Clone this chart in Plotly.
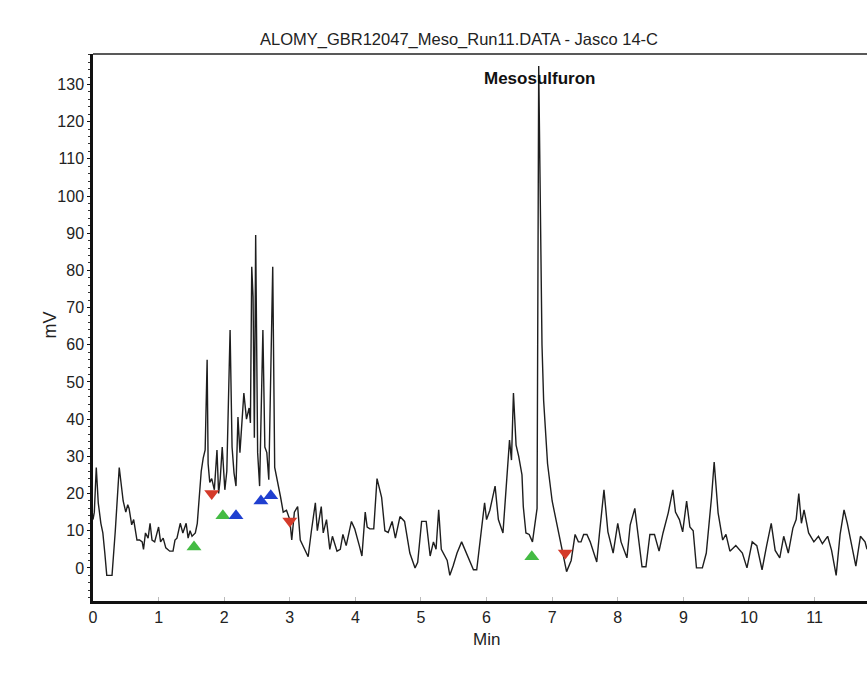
import plotly.graph_objects as go

# ---- data ----
time_min = [
    0.00, 0.02, 0.05, 0.08, 0.12, 0.15, 0.18, 0.21, 0.29, 0.32, 0.34, 0.40, 0.43, 0.46, 0.50,
    0.53, 0.55, 0.59, 0.62, 0.65, 0.67, 0.71, 0.75, 0.77, 0.80, 0.84, 0.87, 0.90, 0.94, 0.97,
    1.00, 1.03, 1.07, 1.11, 1.14, 1.17, 1.22, 1.25, 1.28, 1.33, 1.37, 1.42, 1.45, 1.48, 1.51,
    1.56, 1.59, 1.62, 1.65, 1.68, 1.71, 1.74, 1.755, 1.78, 1.81, 1.85, 1.89, 1.915, 1.94, 1.97,
    2.01, 2.04, 2.09, 2.12, 2.15, 2.18, 2.21, 2.24, 2.27, 2.30, 2.34, 2.38, 2.40, 2.42, 2.44,
    2.46, 2.48, 2.51, 2.54, 2.59, 2.62, 2.65, 2.68, 2.74, 2.77, 2.82, 2.86, 2.90, 2.95, 3.00,
    3.03, 3.07, 3.12, 3.16, 3.20, 3.23, 3.28, 3.33, 3.39, 3.42, 3.48, 3.51, 3.56, 3.61, 3.65,
    3.72, 3.77, 3.81, 3.86, 3.94, 3.99, 4.06, 4.10, 4.15, 4.18, 4.22, 4.28, 4.33, 4.37, 4.40,
    4.45, 4.50, 4.56, 4.61, 4.68, 4.75, 4.83, 4.91, 4.95, 5.01, 5.08, 5.14, 5.19, 5.23, 5.27,
    5.31, 5.40, 5.44, 5.49, 5.55, 5.62, 5.67, 5.72, 5.80, 5.85, 5.90, 5.97, 6.00, 6.05, 6.13,
    6.18, 6.25, 6.31, 6.35, 6.38, 6.41, 6.45, 6.49, 6.54, 6.56, 6.60, 6.65, 6.70, 6.74, 6.77,
    6.795, 6.815, 6.83, 6.845, 6.87, 6.93, 7.00, 7.07, 7.12, 7.22, 7.29, 7.35, 7.40, 7.44, 7.48,
    7.53, 7.58, 7.63, 7.68, 7.72, 7.79, 7.85, 7.93, 8.00, 8.05, 8.14, 8.19, 8.26, 8.31, 8.37,
    8.43, 8.49, 8.56, 8.63, 8.69, 8.77, 8.84, 8.88, 8.94, 8.99, 9.05, 9.10, 9.15, 9.20, 9.29,
    9.35, 9.43, 9.47, 9.53, 9.60, 9.65, 9.71, 9.80, 9.90, 9.97, 10.05, 10.12, 10.20, 10.27, 10.34,
    10.40, 10.47, 10.53, 10.60, 10.67, 10.72, 10.76, 10.80, 10.84, 10.91, 10.99, 11.06, 11.12, 11.20, 11.26,
    11.33, 11.39, 11.45, 11.50, 11.59, 11.63, 11.70, 11.77, 11.80,
]
signal_mv = [
    13, 15, 27, 17.5, 12, 9.4, 4, -2, -2, 4, 10, 27, 22, 18, 15,
    17, 16, 11.6, 13, 9, 7.5, 7.5, 7, 5, 9.4, 8, 12, 7.5, 7, 9,
    11, 7, 8, 5.4, 5, 4.5, 4.5, 7.5, 8, 12, 9.4, 12, 8, 10, 8.5,
    9.4, 12, 20, 26, 29.5, 31.7, 56, 28, 23, 24, 21, 31.7, 20, 24, 32.5,
    21, 26, 64, 32.5, 25.5, 22, 40.6, 31, 38, 47, 40, 43, 39, 81, 73,
    35, 89.5, 31, 22, 64, 32.5, 31, 23.7, 81, 27, 23, 19, 15, 15.5, 13,
    7.5, 15, 16.5, 7.5, 6, 5, 3, 10, 17.5, 10, 16.5, 9.4, 13, 5, 8.5,
    4.5, 5, 9, 6, 12.5, 10.5, 6, 3.2, 15, 11, 10.5, 10.5, 24, 21, 19,
    10, 9.5, 12.5, 8, 13.8, 12.5, 4, 0, 1.5, 12.5, 12.5, 3.2, 7, 5, 15.6,
    5, 2, -2, 0.5, 4, 7, 5, 3, -0.5, -0.5, 7, 17.5, 13, 15.5, 22,
    13, 9.4, 24.5, 34.4, 29, 47, 33, 30, 25, 16.5, 9.4, 9, 7, 13, 16,
    135, 100, 72, 60, 45, 28, 18, 12, 7, -1, 2, 9, 7, 7, 9,
    9, 7, 4, 1.6, 9, 21, 9.7, 4, 12, 7, 2.7, 11.6, 16, 8.5, 0.3,
    0.3, 9, 9, 4.5, 9.4, 14.8, 21, 15, 13, 9.7, 18, 11, 10, 0, 0,
    4, 19, 28.5, 14.8, 7.5, 9, 4.5, 6, 4, 0, 7, 6, -0.5, 6, 12,
    4.7, 2.7, 8.5, 4, 10.7, 13, 20, 12, 15.6, 9.4, 7, 8.5, 6.5, 8.5, 4.7,
    -2, 9, 15.6, 12, 4, 0.5, 8.5, 7, 5,
]

# peak start/end markers
start_green_t = [1.54, 1.98, 6.69]
start_green_v = [5.6, 14, 3]
start_blue_t = [2.18, 2.56, 2.71]
start_blue_v = [14, 18, 19.4]
end_red_t = [1.81, 3.00, 7.20]
end_red_v = [20, 12.6, 4]

x_ticks = [0, 1, 2, 3, 4, 5, 6, 7, 8, 9, 10, 11]
y_ticks = [0, 10, 20, 30, 40, 50, 60, 70, 80, 90, 100, 110, 120, 130]

title_text = "ALOMY_GBR12047_Meso_Run11.DATA - Jasco 14-C"
peak_name = "Mesosulfuron"
peak_t = 6.81
peak_label_v = 131.5

FONT = "Liberation Sans, Arial, sans-serif"

fig = go.Figure()
fig.add_trace(go.Scatter(
    x=time_min, y=signal_mv, mode="lines",
    line=dict(color="#1e1e1e", width=1.4), showlegend=False, hoverinfo="skip",
))
fig.add_trace(go.Scatter(
    x=start_green_t, y=start_green_v, mode="markers",
    marker=dict(symbol="triangle-up", size=13, color="#44bb44"), showlegend=False,
))
fig.add_trace(go.Scatter(
    x=start_blue_t, y=start_blue_v, mode="markers",
    marker=dict(symbol="triangle-up", size=13, color="#1f3fd0"), showlegend=False,
))
fig.add_trace(go.Scatter(
    x=end_red_t, y=end_red_v, mode="markers",
    marker=dict(symbol="triangle-down", size=13, color="#d43a2a"), showlegend=False,
))

fig.add_annotation(x=peak_t, y=peak_label_v, text="<b>" + peak_name + "</b>", showarrow=False,
                   font=dict(family=FONT, size=17, color="#111"), xanchor="center", yanchor="middle")
fig.add_annotation(x=0.473, y=1.026, xref="paper", yref="paper", text=title_text, showarrow=False,
                   font=dict(family=FONT, size=16.5, color="#222"), xanchor="center", yanchor="middle")
fig.add_annotation(x=-0.056, y=0.505, xref="paper", yref="paper", text="mV", showarrow=False,
                   textangle=-90, font=dict(family=FONT, size=18, color="#222"),
                   xanchor="center", yanchor="middle")
fig.add_annotation(x=0.509, y=-0.071, xref="paper", yref="paper", text="Min", showarrow=False,
                   font=dict(family=FONT, size=17, color="#222"), xanchor="center", yanchor="middle")

# top frame line
fig.add_shape(type="line", xref="paper", yref="paper", x0=0, x1=1, y0=1, y1=1,
              line=dict(color="#222", width=1.5))

fig.update_xaxes(
    range=[0, 11.80], tickvals=x_ticks, ticktext=[str(v) for v in x_ticks],
    showgrid=False, zeroline=False, showline=True, linecolor="#111", linewidth=2.5,
    ticks="inside", ticklen=4, tickcolor="#bbb", tickwidth=1,
    tickfont=dict(family=FONT, size=16, color="#222"),
)
fig.update_yaxes(
    range=[-8.9, 138.2], tickvals=y_ticks, ticktext=[str(v) for v in y_ticks],
    showgrid=False, zeroline=False, showline=True, linecolor="#111", linewidth=2.5,
    ticks="outside", ticklen=3, tickcolor="#111", tickwidth=1,
    minor=dict(dtick=2, ticks="outside", ticklen=2, tickcolor="#333", showgrid=False),
    tickfont=dict(family=FONT, size=16, color="#222"),
)
fig.update_layout(
    width=867, height=673,
    margin=dict(l=93, r=0, t=54, b=72),
    plot_bgcolor="white", paper_bgcolor="white",
    showlegend=False,
)
fig.write_html(
    "out.html",
    config={"displayModeBar": False},
    post_script="document.body.style.margin='0';document.body.style.overflow='hidden';",
)
